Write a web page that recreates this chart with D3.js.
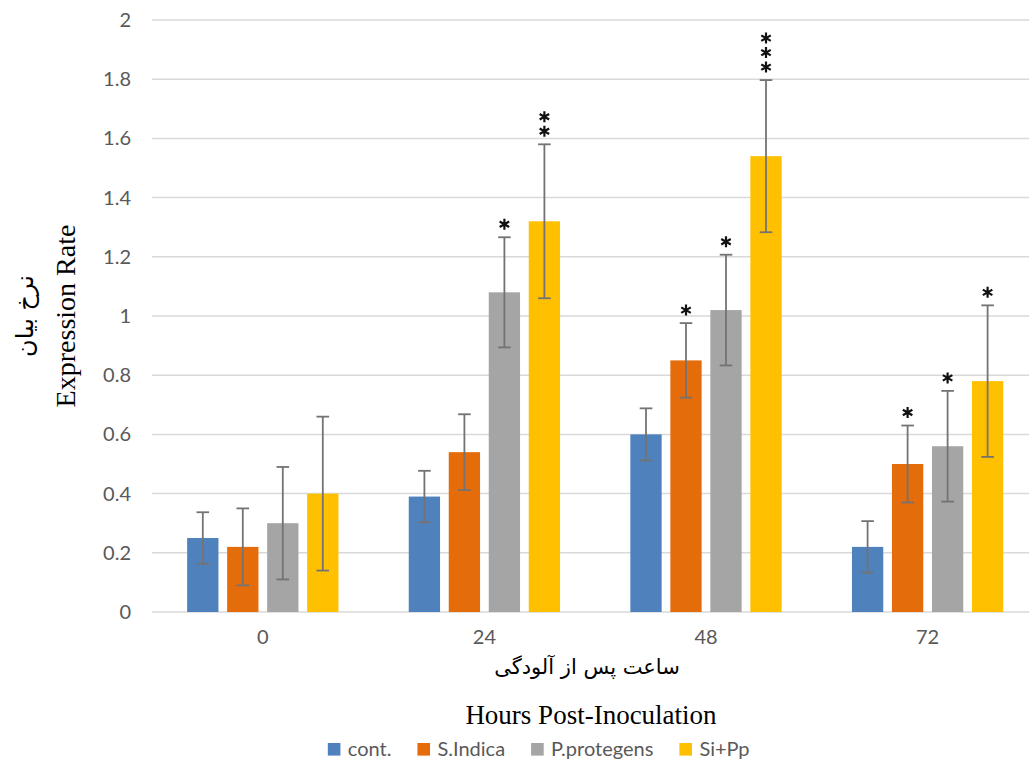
<!DOCTYPE html>
<html>
<head>
<meta charset="utf-8">
<script src="https://cdn.jsdelivr.net/npm/d3@7"></script>
<style>
  body { margin: 0; background: #fff; }
  svg { display: block; }
</style>
</head>
<body>
<svg id="chart"></svg>
<script>
// hours post inoculation
const hours = ["0", "24", "48", "72"];
const treatments = ["cont.", "S.Indica", "P.protegens", "Si+Pp"];

// mean expression rate per treatment
const cont = [0.25, 0.39, 0.60, 0.22];
const sIndica = [0.22, 0.54, 0.85, 0.50];
const pProtegens = [0.30, 1.08, 1.02, 0.56];
const siPp = [0.40, 1.32, 1.54, 0.78];

// error bar half-lengths
const contErr = [0.087, 0.087, 0.088, 0.087];
const sIndicaErr = [0.13, 0.128, 0.126, 0.13];
const pProtegensErr = [0.19, 0.186, 0.187, 0.187];
const siPpErr = [0.26, 0.26, 0.257, 0.256];

// number of significance asterisks
const contSig = [0, 0, 0, 0];
const sIndicaSig = [0, 0, 1, 1];
const pProtegensSig = [0, 1, 1, 1];
const siPpSig = [0, 2, 3, 1];

const yTicks = [0, 0.2, 0.4, 0.6, 0.8, 1, 1.2, 1.4, 1.6, 1.8, 2];

const colors = ["#4f81bd", "#e46c0a", "#a5a5a5", "#ffc000"];

const series = [
    { name: treatments[0], values: cont, err: contErr, sig: contSig },
    { name: treatments[1], values: sIndica, err: sIndicaErr, sig: sIndicaSig },
    { name: treatments[2], values: pProtegens, err: pProtegensErr, sig: pProtegensSig },
    { name: treatments[3], values: siPp, err: siPpErr, sig: siPpSig }
];

const bars = [];
series.forEach((s, si) => {
    hours.forEach((h, hi) => {
        bars.push({ hour: h, name: s.name, idx: si, v: s.values[hi], e: s.err[hi], sig: s.sig[hi] });
    });
});

const width = 1029, height = 762;

const svg = d3.select("#chart")
    .attr("width", width)
    .attr("height", height);

const x0 = d3.scaleBand()
    .domain(hours)
    .range([152, 1038.4])
    .paddingInner(0.278)
    .paddingOuter(0.139);

const x1 = d3.scaleBand()
    .domain(treatments)
    .range([0, x0.bandwidth()])
    .paddingInner(0.2175)
    .paddingOuter(0.10875);

const y = d3.scaleLinear()
    .domain([0, 2])
    .range([612, 20]);

// gridlines
svg.append("g")
    .selectAll("line")
    .data(yTicks)
    .join("line")
    .attr("x1", 152)
    .attr("x2", width)
    .attr("y1", d => y(d))
    .attr("y2", d => y(d))
    .style("stroke", "#d9d9d9")
    .style("stroke-width", 1.5);

// y axis labels
const yAxis = svg.append("g")
    .attr("transform", "translate(131,0)")
    .call(d3.axisLeft(y).tickValues(yTicks).tickSize(0).tickPadding(0).tickFormat(d => String(+d.toFixed(1))));
yAxis.select(".domain").remove();
yAxis.selectAll("text")
    .style("font-family", "Lato, sans-serif")
    .style("font-size", "20px")
    .style("fill", "#595959");

// x axis labels
const xAxis = svg.append("g")
    .attr("transform", "translate(0,630)")
    .call(d3.axisBottom(x0).tickSize(0).tickPadding(0));
xAxis.select(".domain").remove();
xAxis.selectAll("text")
    .attr("dy", "0.71em")
    .style("font-family", "Lato, sans-serif")
    .style("font-size", "20px")
    .style("fill", "#595959");

// bars
svg.append("g")
    .selectAll("rect")
    .data(bars)
    .join("rect")
    .attr("x", d => x0(d.hour) + x1(d.name))
    .attr("y", d => y(d.v))
    .attr("width", x1.bandwidth())
    .attr("height", d => y(0) - y(d.v))
    .style("fill", d => colors[d.idx]);

// error bars
const eb = svg.append("g")
    .selectAll("g")
    .data(bars)
    .join("g")
    .attr("transform", d => `translate(${x0(d.hour) + x1(d.name) + x1.bandwidth() / 2},0)`)
    .style("stroke", "#737373")
    .style("stroke-width", 1.8);

eb.append("line")
    .attr("y1", d => y(d.v - d.e))
    .attr("y2", d => y(d.v + d.e));
eb.append("line")
    .attr("x1", -6.3).attr("x2", 6.3)
    .attr("y1", d => y(d.v + d.e))
    .attr("y2", d => y(d.v + d.e));
eb.append("line")
    .attr("x1", -6.3).attr("x2", 6.3)
    .attr("y1", d => y(d.v - d.e))
    .attr("y2", d => y(d.v - d.e));

// significance asterisks
const stars = [];
bars.forEach(b => {
    for (let k = 0; k < b.sig; k++) stars.push({ b: b, k: k });
});
const asterisk = d3.symbol().type(d3.symbolAsterisk).size(85);
svg.append("g")
    .selectAll("path")
    .data(stars)
    .join("path")
    .attr("d", asterisk)
    .attr("transform", d => `translate(${x0(d.b.hour) + x1(d.b.name) + x1.bandwidth() / 2},${y(d.b.v + d.b.e) - 13 - d.k * 14.5})`)
    .style("stroke", "#111")
    .style("stroke-width", 2.2);

// axis titles
svg.append("text")
    .attr("transform", "translate(75,316) rotate(-90)")
    .attr("text-anchor", "middle")
    .style("font-family", "'Liberation Serif', 'Times New Roman', serif")
    .style("font-size", "28px")
    .style("fill", "#000")
    .text("Expression Rate");

svg.append("text")
    .attr("transform", "translate(25,316) rotate(-90)")
    .attr("text-anchor", "middle")
    .attr("dominant-baseline", "central")
    .attr("direction", "rtl")
    .style("font-family", "'DejaVu Sans', sans-serif")
    .style("font-size", "24px")
    .style("fill", "#000")
    .text("نرخ بیان");

svg.append("text")
    .attr("x", 587)
    .attr("y", 674)
    .attr("text-anchor", "middle")
    .attr("direction", "rtl")
    .style("font-family", "'DejaVu Sans', sans-serif")
    .style("font-size", "21px")
    .style("fill", "#000")
    .text("ساعت پس از آلودگی");

svg.append("text")
    .attr("x", 591)
    .attr("y", 724)
    .attr("text-anchor", "middle")
    .style("font-family", "'Liberation Serif', 'Times New Roman', serif")
    .style("font-size", "27px")
    .style("fill", "#000")
    .text("Hours Post-Inoculation");

// legend
const legend = svg.append("g");
const items = legend.selectAll("g")
    .data(treatments)
    .join("g");
items.append("rect")
    .attr("y", 743)
    .attr("width", 12.6)
    .attr("height", 12.6)
    .style("fill", (d, i) => colors[i]);
items.append("text")
    .attr("x", 20)
    .attr("y", 756)
    .style("font-family", "Lato, sans-serif")
    .style("font-size", "20px")
    .style("fill", "#595959")
    .text(d => d);

let pos = 0;
items.each(function () {
    const g = d3.select(this);
    g.attr("transform", `translate(${pos},0)`);
    pos += 20 + g.select("text").node().getComputedTextLength() + 26;
});
const total = pos - 26;
legend.attr("transform", `translate(${538.7 - total / 2},0)`);
</script>
</body>
</html>
